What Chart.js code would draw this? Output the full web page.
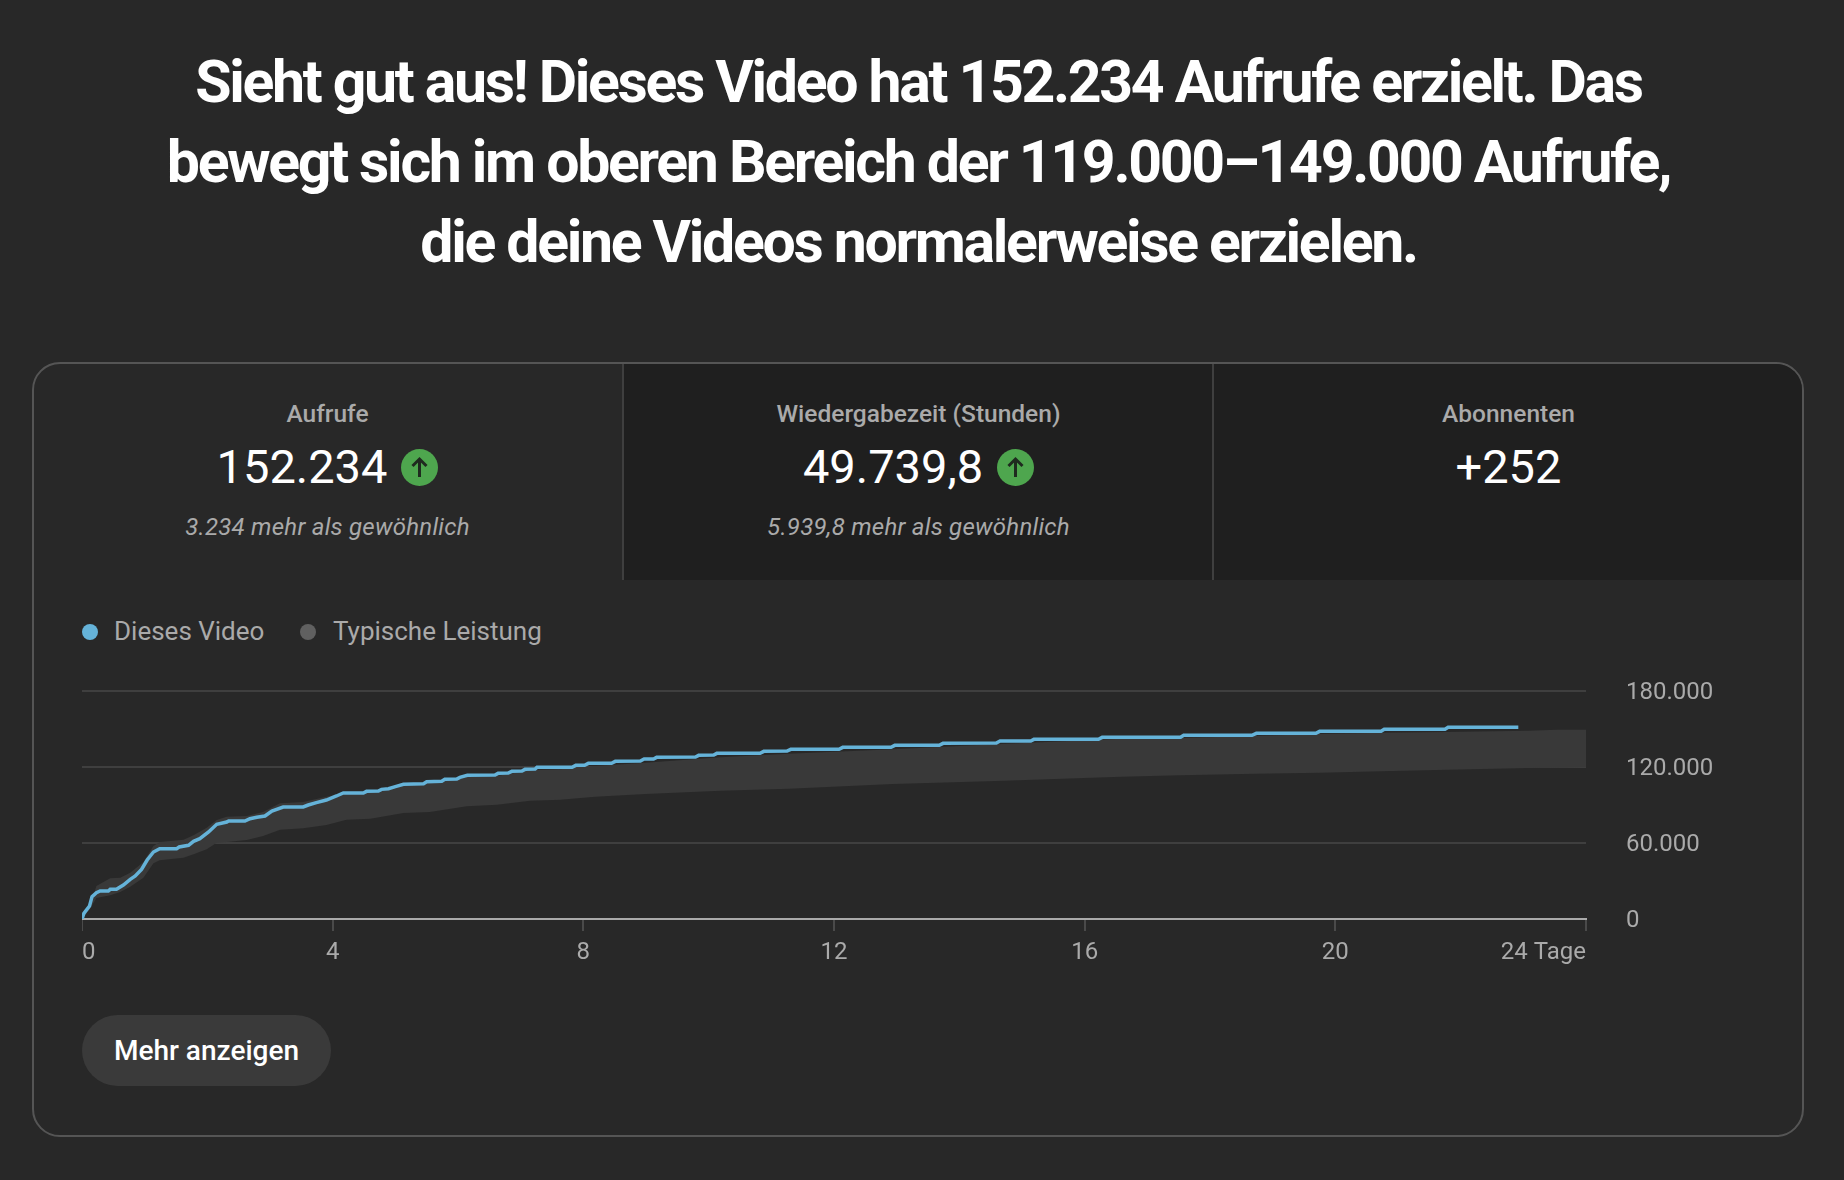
<!DOCTYPE html>
<html lang="de">
<head>
<meta charset="utf-8">
<title>Videoleistung</title>
<script src="https://cdn.jsdelivr.net/npm/chart.js@4/dist/chart.umd.js"></script>
<style>
  html, body { margin: 0; background: #282828; }
  body { width: 1844px; height: 1180px; position: relative; overflow: hidden; font-family: Roboto, sans-serif; color: #fff; }
  h1 { position: absolute; left: -3.5px; top: 42px; width: 1844px; margin: 0; text-align: center; font-size: 59px; line-height: 80px; font-weight: 700; letter-spacing: -2.33px; }
  .panel { position: absolute; left: 32px; top: 362px; width: 1768px; height: 771px; border: 2px solid #555; border-radius: 28px; overflow: hidden; box-sizing: content-box; }
  .tab { position: absolute; top: 0; height: 216px; width: 591px; text-align: center; box-sizing: border-box; }
  .tab.dark { background: #1f1f1f; border-left: 2px solid #3f3f3f; }
  .tab .name { position: absolute; left: 0; right: 0; top: 34.5px; font-size: 24.5px; line-height: 30px; font-weight: 500; color: #aaa; }
  .tab .value { position: absolute; left: 0; right: 0; top: 75px; height: 56px; display: flex; justify-content: center; align-items: center; gap: 14px; font-size: 47px; line-height: 56px; }
  .tab .note { position: absolute; left: 0; right: 0; top: 148px; font-size: 24px; line-height: 30px; font-style: italic; color: #aaa; letter-spacing: .26px; }
  .legend { position: absolute; top: 614px; height: 34px; font-size: 26px; line-height: 34px; color: #aaa; }
  .dot { position: absolute; top: 624px; width: 16px; height: 16px; border-radius: 50%; }
  .chart-box { position: absolute; left: 82px; top: 660px; width: 1668px; height: 330px; }
  .more { position: absolute; left: 82px; top: 1015px; width: 249px; height: 71px; border-radius: 36px; background: #3a3a3a; text-align: center; font-size: 28px; line-height: 71px; font-weight: 500; }
</style>
</head>
<body>
<h1>Sieht gut aus! Dieses Video hat 152.234 Aufrufe erzielt. Das<br>bewegt sich im oberen Bereich der 119.000–149.000 Aufrufe,<br>die deine Videos normalerweise erzielen.</h1>

<div class="panel">
  <div class="tab" style="left:0;width:587px;">
    <div class="name">Aufrufe</div>
    <div class="value"><span>152.234</span><svg width="37" height="37" viewBox="0 0 37 37"><circle cx="18.5" cy="18.5" r="18.5" fill="#4ea64e"/><path d="M18.5 28V10M11.5 17l7-7 7 7" fill="none" stroke="#1f2a1f" stroke-width="3"/></svg></div>
    <div class="note">3.234 mehr als gewöhnlich</div>
  </div>
  <div class="tab dark" style="left:588px;">
    <div class="name">Wiedergabezeit (Stunden)</div>
    <div class="value"><span>49.739,8</span><svg width="37" height="37" viewBox="0 0 37 37"><circle cx="18.5" cy="18.5" r="18.5" fill="#4ea64e"/><path d="M18.5 28V10M11.5 17l7-7 7 7" fill="none" stroke="#1f2a1f" stroke-width="3"/></svg></div>
    <div class="note">5.939,8 mehr als gewöhnlich</div>
  </div>
  <div class="tab dark" style="left:1178px;">
    <div class="name">Abonnenten</div>
    <div class="value"><span>+252</span></div>
  </div>
</div>

<div class="dot" style="left:82px;background:#65b3d9;"></div>
<div class="legend" style="left:114px;">Dieses Video</div>
<div class="dot" style="left:300px;background:#606060;"></div>
<div class="legend" style="left:333px;">Typische Leistung</div>

<div class="chart-box"><canvas id="chart"></canvas></div>

<div class="more">Mehr anzeigen</div>

<script>
const videoDays = [0,0.03,0.12,0.16,0.23,0.29,0.42,0.45,0.55,0.66,0.77,0.85,0.95,1.04,1.14,1.24,1.51,1.55,1.7,1.78,1.88,2.02,2.15,2.31,2.34,2.6,2.68,2.79,2.92,3.03,3.21,3.53,3.61,3.74,3.9,4.06,4.17,4.49,4.54,4.73,4.78,4.89,5,5.13,5.45,5.5,5.74,5.79,5.98,6.03,6.15,6.59,6.64,6.8,6.86,7.02,7.07,7.23,7.26,7.82,7.88,8.02,8.08,8.45,8.51,8.91,8.97,9.12,9.17,9.79,9.84,10.08,10.13,10.82,10.88,11.25,11.31,12.08,12.14,12.91,12.97,13.68,13.74,14.59,14.65,15.14,15.19,16.22,16.28,17.53,17.58,18.67,18.74,19.69,19.75,20.73,20.78,21.75,21.8,22.92];
const videoViews = [0,4474,10263,17632,20789,22105,22105,23421,23421,26842,31316,33947,39211,46579,52895,55526,55526,56842,58158,61316,63421,68684,74737,76579,77368,77368,79211,80263,81316,85263,88421,88421,90000,91842,93947,97105,99474,99474,100789,101053,102368,102895,104474,106316,106842,108421,108684,110263,110526,111842,113421,113684,115000,115263,116579,116842,118158,118421,119737,119737,121316,121316,122895,122895,124474,124737,126316,126316,127632,127895,129211,129474,130789,130789,132368,132632,133947,133947,135526,135526,137105,137105,138684,138947,140526,140526,141842,141842,143421,143421,145000,145000,146579,146579,148158,148158,149737,149737,151316,151316];

const bandDays = [0,0.13,0.23,0.45,0.61,0.77,0.98,1.14,1.24,1.62,1.78,1.99,2.15,2.31,2.63,2.89,3.16,3.53,3.9,4.22,4.6,5.13,5.55,6.14,6.62,7.15,7.63,8.19,8.99,10.19,11.28,12.94,14.59,16.58,17.53,18.71,19.75,20.73,21.78,23.08,23.54,24];
const bandHigh = [0,10263,26053,32105,32632,36579,45000,57632,60790,62632,66053,72105,78158,80790,81316,84474,91316,92368,96579,99737,100263,105526,107632,112105,112895,117368,118158,120789,123421,127632,130526,133947,137895,142368,142895,144474,146053,147105,147632,148684,149500,149500];
const bandLow = [0,8158,16579,18684,21316,25526,32632,43947,46316,48421,51053,55000,60263,60790,62368,65526,70526,71579,74211,78421,79211,83684,84474,88947,90263,93421,94211,96579,98684,101316,102895,106579,108947,112368,113421,114737,115526,116579,117895,119211,119500,119737];

const xTickDays = [0,4,8,12,16,20,24];
const xTickLabels = ["0","4","8","12","16","20","24 Tage"];
const yTickValues = [0,60000,120000,180000];
const yTickLabels = ["0","60.000","120.000","180.000"];

const pairs = (xs, ys) => xs.map((x, i) => ({ x: x, y: ys[i] }));

new Chart(document.getElementById("chart").getContext("2d"), {
  type: "line",
  data: {
    datasets: [
      {
        label: "Dieses Video",
        data: pairs(videoDays, videoViews),
        borderColor: "#65b3d9",
        borderWidth: 3.5,
        pointRadius: 0,
        tension: 0,
        fill: false,
        order: 0,
      },
      {
        label: "Typische Leistung",
        data: pairs(bandDays, bandHigh),
        borderWidth: 0,
        pointRadius: 0,
        tension: 0,
        fill: "+1",
        backgroundColor: "#393939",
        order: 1,
      },
      {
        label: "Typische Leistung (unten)",
        data: pairs(bandDays, bandLow),
        borderWidth: 0,
        pointRadius: 0,
        tension: 0,
        fill: false,
        order: 1,
      },
    ],
  },
  options: {
    responsive: true,
    maintainAspectRatio: false,
    animation: false,
    layout: { padding: { top: 31, left: 0, right: 0, bottom: 0 } },
    plugins: { legend: { display: false }, tooltip: { enabled: false } },
    scales: {
      x: {
        type: "linear",
        min: 0,
        max: 24,
        afterBuildTicks: (scale) => {
          scale.ticks = xTickDays.map((v) => ({ value: v }));
        },
        afterFit: (scale) => {
          scale.height = 71;
          scale.paddingLeft = 0;
          scale.paddingRight = 0;
        },
        border: { color: "#aaaaaa", width: 2 },
        grid: { drawOnChartArea: false, drawTicks: true, tickLength: 12, color: "#4a4a4a", lineWidth: 2, tickColor: "#4a4a4a" },
        ticks: {
          align: "inner",
          maxRotation: 0,
          autoSkip: false,
          padding: 8,
          color: "#aaaaaa",
          font: { family: "Roboto", size: 24 },
          callback: (v) => xTickLabels[xTickDays.indexOf(v)],
        },
      },
      y: {
        position: "right",
        min: 0,
        max: 180000,
        afterBuildTicks: (scale) => {
          scale.ticks = yTickValues.map((v) => ({ value: v }));
        },
        afterFit: (scale) => {
          scale.width = 164;
          scale.paddingTop = 0;
          scale.paddingBottom = 0;
        },
        border: { display: false },
        grid: { color: "#3f3f3f", lineWidth: 2, drawTicks: false },
        ticks: {
          crossAlign: "near",
          padding: 40,
          labelOffset: 1.5,
          color: "#aaaaaa",
          font: { family: "Roboto", size: 24 },
          callback: (v) => yTickLabels[yTickValues.indexOf(v)],
        },
      },
    },
  },
});
</script>
</body>
</html>
